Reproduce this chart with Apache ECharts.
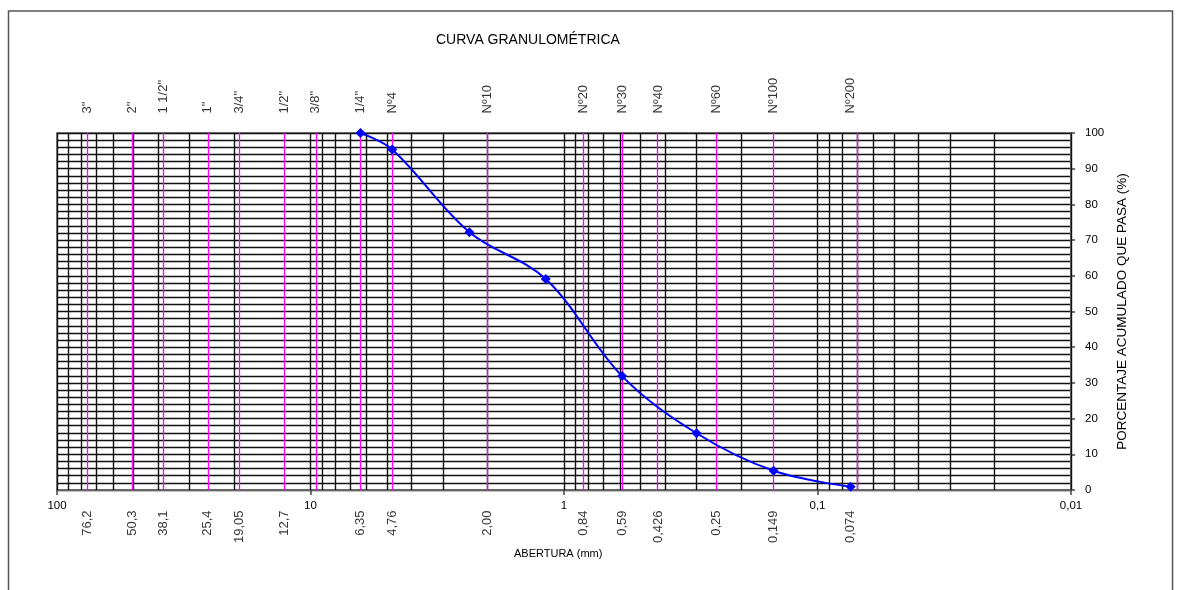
<!DOCTYPE html>
<html><head><meta charset="utf-8">
<script src="https://cdn.jsdelivr.net/npm/echarts@6/dist/echarts.min.js"></script>
<style>html,body{margin:0;padding:0;background:#fff}#c{width:1179px;height:590px}</style>
</head><body><div id="c"></div>
<script>
// Sieve openings (mm), names (top) and opening labels (bottom)
const sieveSizes = [76.2, 50.3, 38.1, 25.4, 19.05, 12.7, 9.525, 6.35, 4.76, 2.00, 0.84, 0.59, 0.426, 0.25, 0.149, 0.074];
const sieveNames = ['3"', '2"', '1 1/2"', '1"', '3/4"', '1/2"', '3/8"', '1/4"', 'Nº4', 'Nº10', 'Nº20', 'Nº30', 'Nº40', 'Nº60', 'Nº100', 'Nº200'];
const sieveOpenings = ['76,2', '50,3', '38,1', '25,4', '19,05', '12,7', '', '6,35', '4,76', '2,00', '0,84', '0,59', '0,426', '0,25', '0,149', '0,074'];
// Log paper vertical grid lines (mm)
const logGrid = [100, 90, 80, 70, 60, 50, 40, 30, 20,
  10, 9, 8, 7, 6, 5, 4, 3, 2,
  1, 0.9, 0.8, 0.7, 0.6, 0.5, 0.4, 0.3, 0.2,
  0.1, 0.09, 0.08, 0.07, 0.06, 0.05, 0.04, 0.03, 0.02, 0.01];
// X tick labels at decades
const xTickValues = [100, 10, 1, 0.1, 0.01];
const xTickLabels = ['100', '10', '1', '0,1', '0,01'];
// Sample: opening (mm) and cumulative percent passing
const sampleSizes = [6.35, 4.76, 2.36, 1.18, 0.59, 0.30, 0.149, 0.074];
const samplePassing = [100, 95.4, 72.2, 59.1, 31.9, 15.9, 5.4, 0.9];

const FONT = "'Liberation Sans', Arial, sans-serif";
const chart = echarts.init(document.getElementById('c'), null, {renderer: 'canvas'});

function tickLabel(v) {
  for (let i = 0; i < xTickValues.length; i++) {
    if (Math.abs(Math.log10(v) - Math.log10(xTickValues[i])) < 1e-6) return xTickLabels[i];
  }
  return '';
}

chart.setOption({
  animation: false,
  backgroundColor: '#fff',
  textStyle: {fontFamily: FONT},
  title: {
    text: 'CURVA GRANULOMÉTRICA',
    left: 431, top: 28,
    textStyle: {fontFamily: FONT, fontSize: 14, fontWeight: 'normal', color: '#000'}
  },
  graphic: [
    {type: 'rect', shape: {x: 8.5, y: 11, width: 1164, height: 600}, style: {fill: 'none', stroke: '#555', lineWidth: 1.5}, z: 100},
    {type: 'text', left: 514, top: 548, style: {text: 'ABERTURA (mm)', font: '11px ' + FONT, fill: '#000'}}
  ],
  grid: {left: 57, top: 133, width: 1014, height: 357, show: true, borderColor: '#888', borderWidth: 2, backgroundColor: 'transparent'},
  xAxis: {
    type: 'log', logBase: 10, min: 0.01, max: 100, inverse: true,
    axisLine: {show: true, lineStyle: {color: '#666', width: 2}},
    axisTick: {show: true, length: 5, lineStyle: {color: '#444', width: 1.5}},
    axisLabel: {show: true, margin: 10, fontSize: 11.5, color: '#000', fontFamily: FONT, formatter: tickLabel},
    splitLine: {show: false}
  },
  yAxis: {
    type: 'value', position: 'right', min: 0, max: 100, interval: 10,
    name: 'PORCENTAJE ACUMULADO QUE PASA (%)', nameLocation: 'middle', nameGap: 40, nameRotate: 90,
    nameTextStyle: {fontSize: 13.5, color: '#000', fontFamily: FONT},
    axisLine: {show: true, lineStyle: {color: '#666', width: 2}},
    axisTick: {show: true, length: 4, lineStyle: {color: '#444', width: 1.5}},
    axisLabel: {margin: 14, fontSize: 11.5, color: '#000', fontFamily: FONT},
    splitLine: {show: true, lineStyle: {color: '#111', width: 1.4}},
    minorTick: {show: false, splitNumber: 5},
    minorSplitLine: {show: true, lineStyle: {color: '#111', width: 1.4}}
  },
  series: [
    {
      type: 'line', data: [], silent: true, z: 1,
      markLine: {
        silent: true, symbol: 'none', animation: false,
        label: {show: false},
        lineStyle: {color: '#111', width: 1.4, type: 'solid'},
        data: logGrid.map(v => ({xAxis: v}))
      }
    },
    {
      type: 'line', data: [], silent: true, z: 2,
      markLine: {
        silent: true, symbol: 'none', animation: false,
        label: {show: false},
        lineStyle: {color: '#ff00ff', width: 1.3, type: 'solid'},
        data: sieveSizes.map(v => ({xAxis: v}))
      }
    },
    {
      type: 'scatter', clip: false, silent: true, symbolSize: 1, z: 3,
      itemStyle: {color: 'rgba(0,0,0,0)'},
      data: sieveSizes.map((v, i) => ({value: [v, 100], name: sieveNames[i]})),
      label: {
        show: true, position: 'top', distance: 19, rotate: 90,
        align: 'left', verticalAlign: 'middle',
        fontSize: 13, color: '#000', fontFamily: FONT,
        formatter: p => p.name
      }
    },
    {
      type: 'scatter', clip: false, silent: true, symbolSize: 1, z: 3,
      itemStyle: {color: 'rgba(0,0,0,0)'},
      data: sieveSizes.map((v, i) => ({value: [v, 0], name: sieveOpenings[i]})),
      label: {
        show: true, position: 'bottom', distance: 20, rotate: 90,
        align: 'right', verticalAlign: 'middle',
        fontSize: 13, color: '#000', fontFamily: FONT,
        formatter: p => p.name
      }
    },
    {
      type: 'line', z: 10, smooth: 0.35,
      data: sampleSizes.map((v, i) => [v, samplePassing[i]]),
      symbol: 'diamond', symbolSize: 10, showSymbol: true,
      lineStyle: {color: '#0000ff', width: 2},
      itemStyle: {color: '#0000ff'}
    }
  ]
});
</script></body></html>
